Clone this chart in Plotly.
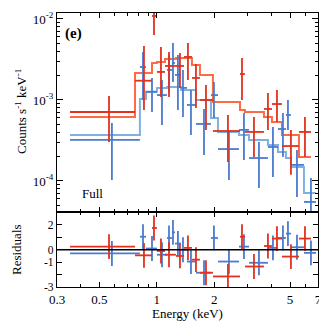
import plotly.graph_objects as go
import numpy as np

# ---------------- data ----------------
red_edges = [0.351, 0.769, 0.944, 1.002, 1.104, 1.260, 1.389, 1.529, 1.684, 1.970,
             2.730, 2.899, 3.646, 4.016, 4.531, 5.563, 6.429]
red_e = [0.562, 0.857, 0.967, 1.052, 1.159, 1.323, 1.457, 1.605, 1.811, 2.361,
         2.797, 3.232, 3.826, 4.266, 5.050, 5.980]
red_rate = [7.11e-4, 1.73e-3, 1.09e-2, 2.22e-3, 2.63e-3, 2.63e-3, 3.40e-3, 1.87e-3,
            1.00e-3, 4.14e-4, 2.09e-3, 4.03e-4, 7.74e-4, 8.92e-4, 2.70e-4, 4.03e-4]
red_up = [1.12e-3, 4.64e-3, 2.0e-2, 4.51e-3, 3.92e-3, 3.80e-3, 5.06e-3, 2.78e-3,
          1.53e-3, 6.53e-4, 3.30e-3, 6.16e-4, 1.22e-3, 1.33e-3, 4.27e-4, 6.16e-4]
red_dn = [3.03e-4, 7.53e-4, 6.34e-3, 1.09e-3, 1.09e-3, 1.41e-3, 1.77e-3, 7.96e-4,
          4.27e-4, 1.72e-4, 1.00e-3, 1.98e-4, 4.27e-4, 5.35e-4, 1.19e-4, 1.98e-4]
red_model = [6.16e-4, 2.15e-3, 2.86e-3, 2.95e-3, 3.21e-3, 3.30e-3, 3.30e-3, 2.70e-3,
             2.04e-3, 9.45e-4, 7.53e-4, 7.11e-4, 6.16e-4, 5.35e-4, 3.70e-4, 1.98e-4]
red_resid = [0.25, -0.45, 1.75, -0.1, -0.4, -0.5, 0.15, -0.8, -1.85, -2.15, 1.05,
             -1.35, 0.3, 0.9, -0.55, 0.9]
red_resid_err = [1.0, 1.0, 1.0, 1.0, 1.0, 1.0, 1.0, 1.0, 1.0, 1.0, 1.0, 1.0, 1.0, 1.0, 1.0, 1.0]

blue_edges = [0.351, 0.816, 0.878, 1.002, 1.131, 1.201, 1.246, 1.339, 1.440, 1.605,
              1.923, 2.093, 2.697, 3.043, 3.826, 4.318, 4.755, 5.050, 5.909, 6.830]
blue_e = [0.582, 0.847, 0.944, 1.065, 1.159, 1.216, 1.291, 1.372, 1.511, 1.768,
          1.994, 2.390, 2.864, 3.433, 4.064, 4.585, 4.871, 5.430, 6.429]
blue_rate = [3.21e-4, 2.55e-3, 1.26e-3, 1.15e-3, 2.35e-3, 2.86e-3, 2.04e-3, 1.41e-3,
             8.68e-4, 5.06e-4, 1.15e-3, 2.48e-4, 4.27e-4, 1.92e-4, 2.63e-4, 4.38e-4,
             6.53e-4, 1.58e-4, 5.51e-5]
blue_up = [5.20e-4, 3.92e-3, 1.87e-3, 1.77e-3, 3.59e-3, 5.06e-3, 3.59e-3, 2.35e-3,
           1.33e-3, 7.74e-4, 1.67e-3, 4.03e-4, 6.92e-4, 3.03e-4, 4.64e-4, 6.92e-4,
           1.00e-3, 2.42e-4, 1.09e-4]
blue_dn = [1.03e-4, 1.00e-3, 7.11e-4, 4.91e-4, 1.26e-3, 1.67e-3, 7.53e-4, 6.16e-4,
           3.70e-4, 2.09e-4, 6.00e-4, 1.03e-4, 1.82e-4, 8.20e-5, 1.12e-4, 1.98e-4,
           4.27e-4, 6.34e-5, 3.0e-5]
blue_model = [3.70e-4, 1.03e-3, 1.26e-3, 1.41e-3, 1.45e-3, 1.45e-3, 1.45e-3, 1.33e-3,
              1.33e-3, 1.00e-3, 6.00e-4, 4.03e-4, 3.70e-4, 3.21e-4, 2.78e-4, 2.28e-4,
              1.92e-4, 1.49e-4, 7.11e-5]
blue_resid = [-0.3, 1.05, 0.1, -0.4, 0.95, 1.4, 0.5, 0.0, -0.95, -1.85, 0.95, -0.95,
              0.25, -1.05, 0.15, 0.95, 1.3, 0.2, -0.25]
blue_resid_err = [1.0, 1.0, 1.0, 1.0, 1.0, 1.0, 1.0, 1.0, 1.0, 1.0, 1.0, 1.0, 1.0, 1.0,
                  1.0, 1.0, 1.0, 1.0, 1.0]

x_tick_vals = [0.3, 0.5, 1, 2, 5, 7]
x_tick_text = ["0.3", "0.5", "1", "2", "5", "7"]
x_minor_vals = [0.4, 0.6, 0.7, 0.8, 0.9, 3, 4, 6]
y_tick_vals = [1e-4, 1e-3, 1e-2]
y_tick_text = ["10<sup>-4</sup>", "10<sup>-3</sup>", "10<sup>-2</sup>"]
y_minor_vals = [m * 10.0 ** p for p in (-5, -4, -3) for m in range(2, 10)]
r_tick_vals = [-3, -1, 0, 2]
r_tick_text = ["-3", "-1", "0", "2"]
r_minor_vals = [-2, 1]

# ---------------- styling ----------------
RED = "#e0321f"
RED_MODEL = "#ff6a45"
BLUE = "#4a7bcf"
BLUE_MODEL = "#80b0e2"
FONT = "Liberation Serif, Times New Roman, serif"

# page body has an 8px margin: the figure is placed at (8, 8)
OFF = 8
PL, PR, PT, PB = 57, 318, 13, 287   # plot area in window pixels

fig = go.Figure()


def add_model(edges, model, mcol):
    fig.add_trace(go.Scatter(
        x=list(edges), y=list(model) + [model[-1]], mode="lines",
        line=dict(color=mcol, width=2, shape="hv"),
        xaxis="x", yaxis="y", hoverinfo="skip"))


def add_data(edges, e, rate, up, dn, resid, rerr, col):
    edges = np.array(edges)
    e = np.array(e)
    lo, hi = edges[:-1], edges[1:]
    rate = np.array(rate)
    fig.add_trace(go.Scatter(
        x=e, y=rate, mode="markers", marker=dict(size=1, color=col),
        error_x=dict(type="data", symmetric=False, array=hi - e, arrayminus=e - lo,
                     color=col, thickness=1.8, width=0),
        error_y=dict(type="data", symmetric=False, array=np.array(up) - rate,
                     arrayminus=rate - np.array(dn), color=col, thickness=1.8, width=0),
        xaxis="x", yaxis="y"))
    fig.add_trace(go.Scatter(
        x=e, y=resid, mode="markers", marker=dict(size=1, color=col),
        error_x=dict(type="data", symmetric=False, array=hi - e, arrayminus=e - lo,
                     color=col, thickness=1.8, width=0),
        error_y=dict(type="data", array=rerr, color=col, thickness=1.8, width=0),
        xaxis="x2", yaxis="y2"))


add_model(blue_edges, blue_model, BLUE_MODEL)
add_model(red_edges, red_model, RED_MODEL)
add_data(blue_edges, blue_e, blue_rate, blue_up, blue_dn, blue_resid, blue_resid_err, BLUE)
add_data(red_edges, red_e, red_rate, red_up, red_dn, red_resid, red_resid_err, RED)

W = H = 327 - OFF
split = (PB - 212) / (PB - PT)
xrange = [np.log10(0.3), np.log10(7)]

common_x = dict(type="log", range=xrange, showgrid=False, zeroline=False,
                showline=True, linecolor="black", linewidth=1.3, mirror="allticks",
                ticks="inside", ticklen=5, tickwidth=1.2, tickcolor="black",
                tickmode="array", tickvals=x_tick_vals, ticktext=x_tick_text,
                minor=dict(tickmode="array", tickvals=x_minor_vals, ticks="inside",
                           ticklen=3, tickwidth=1, tickcolor="black", showgrid=False))

fig.update_layout(
    width=W, height=H,
    margin=dict(l=PL - OFF, r=327 - PR, t=PT - OFF, b=327 - PB, autoexpand=False),
    plot_bgcolor="white", paper_bgcolor="white",
    showlegend=False,
    font=dict(family=FONT, size=13, color="black"),
    xaxis=dict(anchor="y", showticklabels=False, **common_x),
    xaxis2=dict(anchor="y2", showticklabels=True, tickfont=dict(size=13), **common_x),
    yaxis=dict(domain=[split, 1], anchor="x", type="log", range=[-4.383, -1.926],
               showgrid=False, zeroline=False, showline=True, linecolor="black",
               linewidth=1.3, mirror="allticks", ticks="inside", ticklen=6,
               tickwidth=1.2, tickcolor="black", tickmode="array",
               tickvals=y_tick_vals, ticktext=y_tick_text, tickfont=dict(size=13),
               minor=dict(tickmode="array", tickvals=y_minor_vals, ticks="inside",
                          ticklen=3, tickwidth=1, tickcolor="black", showgrid=False)),
    yaxis2=dict(domain=[0, split], anchor="x2", range=[-3, 3.04],
                showgrid=False, zeroline=False, showline=True, linecolor="black",
                linewidth=1.3, mirror="allticks", ticks="inside", ticklen=5,
                tickwidth=1.2, tickcolor="black", tickmode="array",
                tickvals=r_tick_vals, ticktext=r_tick_text, tickfont=dict(size=11.5),
                minor=dict(tickmode="array", tickvals=r_minor_vals, ticks="inside",
                           ticklen=5, tickwidth=1.2, tickcolor="black", showgrid=False)),
)

# zero line in residual panel
fig.add_shape(type="line", xref="paper", x0=0, x1=1, yref="y2", y0=0, y1=0,
              line=dict(color="black", width=1.5))


def px(xp):
    return (xp - PL) / (PR - PL)


def py(yp):
    return (PB - yp) / (PB - PT)


fig.add_annotation(text="Counts s<sup>-1</sup> keV<sup>-1</sup>", xref="paper", yref="paper",
                   x=px(21), y=py(112), textangle=-90,
                   showarrow=False, xanchor="center", yanchor="middle",
                   font=dict(size=13, family=FONT))
fig.add_annotation(text="Residuals", xref="paper", yref="paper",
                   x=px(16), y=py(250), textangle=-90,
                   showarrow=False, xanchor="center", yanchor="middle",
                   font=dict(size=13, family=FONT))
fig.add_annotation(text="Energy (keV)", xref="paper", yref="paper",
                   x=0.5, y=py(313), showarrow=False,
                   xanchor="center", yanchor="middle", font=dict(size=13, family=FONT))
fig.add_annotation(text="<b>(e)</b>", xref="paper", yref="paper",
                   x=px(73), y=py(33), showarrow=False,
                   xanchor="center", yanchor="middle", font=dict(size=15, family=FONT))
fig.add_annotation(text="Full", xref="paper", yref="paper",
                   x=px(92), y=py(193), showarrow=False,
                   xanchor="center", yanchor="middle", font=dict(size=13, family=FONT))

fig.write_html("out.html")
